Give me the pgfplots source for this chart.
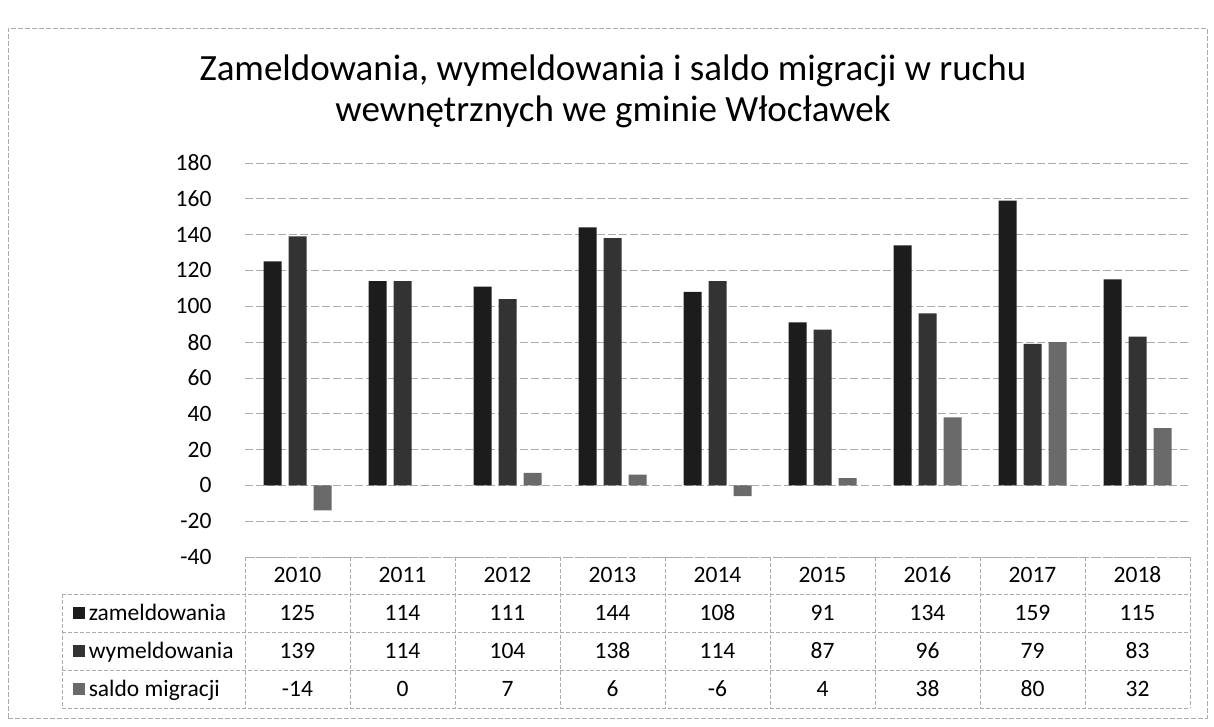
\documentclass[border=0pt]{standalone}
\usepackage{pgfplots}
\pgfplotsset{compat=1.18}
\usepackage{fontspec}
\setmainfont{Carlito}
\definecolor{czam}{HTML}{1C1C1C}
\definecolor{cwym}{HTML}{333333}
\definecolor{csal}{HTML}{6A6A6A}
\definecolor{cgrid}{HTML}{ABABAB}
\begin{document}
\begin{tikzpicture}[x=1pt,y=1pt]
\useasboundingbox (0pt,0pt) rectangle (1214pt,726pt);
\draw[cgrid, line width=0.8pt, dash pattern=on 5pt off 2pt] (8pt,8pt) rectangle (1207pt,698pt);
\node[font=\fontsize{37}{41}\selectfont, align=center] at (613pt,635pt) {Zameldowania, wymeldowania i saldo migracji w ruchu\\wewnętrznych we gminie Włocławek};
\begin{axis}[
  at={(245pt,169pt)}, anchor=south west,
  width=945pt, height=394pt, scale only axis,
  xmin=-0.5, xmax=8.5, ymin=-40, ymax=180,
  ytick={-40,-20,...,180},
  xtick=\empty,
  axis line style={draw=none},
  major tick length=0pt,
  ymajorgrids,
  grid style={cgrid, line width=0.8pt, dash pattern=on 8pt off 3pt},
  yticklabel style={font=\fontsize{23.5}{27}\selectfont, xshift=-30pt},
  /pgf/number format/assume math mode=true,
  ybar=7pt, bar width=18pt,
  clip=false,
]
\addplot[fill=czam, draw=none] coordinates {(0,125) (1,114) (2,111) (3,144) (4,108) (5,91) (6,134) (7,159) (8,115)};
\addplot[fill=cwym, draw=none] coordinates {(0,139) (1,114) (2,104) (3,138) (4,114) (5,87) (6,96) (7,79) (8,83)};
\addplot[fill=csal, draw=none] coordinates {(0,-14) (1,0) (2,7) (3,6) (4,-6) (5,4) (6,38) (7,80) (8,32)};
% data table grid
\draw[cgrid, line width=0.8pt, dash pattern=on 4pt off 2pt]
  (axis cs:-0.5,-40) -- (axis cs:8.5,-40)
  (axis cs:-2.243,-60.7) -- (axis cs:8.5,-60.7)
  (axis cs:-2.243,-81.9) -- (axis cs:8.5,-81.9)
  (axis cs:-2.243,-103.1) -- (axis cs:8.5,-103.1)
  (axis cs:-2.243,-124.3) -- (axis cs:8.5,-124.3)
  (axis cs:-2.243,-60.7) -- (axis cs:-2.243,-124.3)
  (axis cs:-0.5,-40) -- (axis cs:-0.5,-124.3)
  (axis cs:0.5,-40) -- (axis cs:0.5,-124.3)
  (axis cs:1.5,-40) -- (axis cs:1.5,-124.3)
  (axis cs:2.5,-40) -- (axis cs:2.5,-124.3)
  (axis cs:3.5,-40) -- (axis cs:3.5,-124.3)
  (axis cs:4.5,-40) -- (axis cs:4.5,-124.3)
  (axis cs:5.5,-40) -- (axis cs:5.5,-124.3)
  (axis cs:6.5,-40) -- (axis cs:6.5,-124.3)
  (axis cs:7.5,-40) -- (axis cs:7.5,-124.3)
  (axis cs:8.5,-40) -- (axis cs:8.5,-124.3);
\begin{scope}[every node/.style={font=\fontsize{23.5}{27}\selectfont, text height=15.5pt, text depth=0.7pt}]
% years
\node at (axis cs:0,-50.3) {2010};
\node at (axis cs:1,-50.3) {2011};
\node at (axis cs:2,-50.3) {2012};
\node at (axis cs:3,-50.3) {2013};
\node at (axis cs:4,-50.3) {2014};
\node at (axis cs:5,-50.3) {2015};
\node at (axis cs:6,-50.3) {2016};
\node at (axis cs:7,-50.3) {2017};
\node at (axis cs:8,-50.3) {2018};
% legend
\fill[czam] (axis cs:-2.138,-74.6) rectangle (axis cs:-2.028,-67.9);
\fill[cwym] (axis cs:-2.138,-95.8) rectangle (axis cs:-2.028,-89.1);
\fill[csal] (axis cs:-2.138,-117.0) rectangle (axis cs:-2.028,-110.3);
\node[anchor=west, inner xsep=0pt] at (axis cs:-1.99,-71.3) {zameldowania};
\node[anchor=west, inner xsep=0pt] at (axis cs:-1.99,-92.5) {wymeldowania};
\node[anchor=west, inner xsep=0pt] at (axis cs:-1.99,-113.7) {saldo migracji};
% zameldowania
\node at (axis cs:0,-71.3) {125};
\node at (axis cs:1,-71.3) {114};
\node at (axis cs:2,-71.3) {111};
\node at (axis cs:3,-71.3) {144};
\node at (axis cs:4,-71.3) {108};
\node at (axis cs:5,-71.3) {91};
\node at (axis cs:6,-71.3) {134};
\node at (axis cs:7,-71.3) {159};
\node at (axis cs:8,-71.3) {115};
% wymeldowania
\node at (axis cs:0,-92.5) {139};
\node at (axis cs:1,-92.5) {114};
\node at (axis cs:2,-92.5) {104};
\node at (axis cs:3,-92.5) {138};
\node at (axis cs:4,-92.5) {114};
\node at (axis cs:5,-92.5) {87};
\node at (axis cs:6,-92.5) {96};
\node at (axis cs:7,-92.5) {79};
\node at (axis cs:8,-92.5) {83};
% saldo
\node at (axis cs:0,-113.7) {-14};
\node at (axis cs:1,-113.7) {0};
\node at (axis cs:2,-113.7) {7};
\node at (axis cs:3,-113.7) {6};
\node at (axis cs:4,-113.7) {-6};
\node at (axis cs:5,-113.7) {4};
\node at (axis cs:6,-113.7) {38};
\node at (axis cs:7,-113.7) {80};
\node at (axis cs:8,-113.7) {32};
\end{scope}
\end{axis}
\end{tikzpicture}
\end{document}
